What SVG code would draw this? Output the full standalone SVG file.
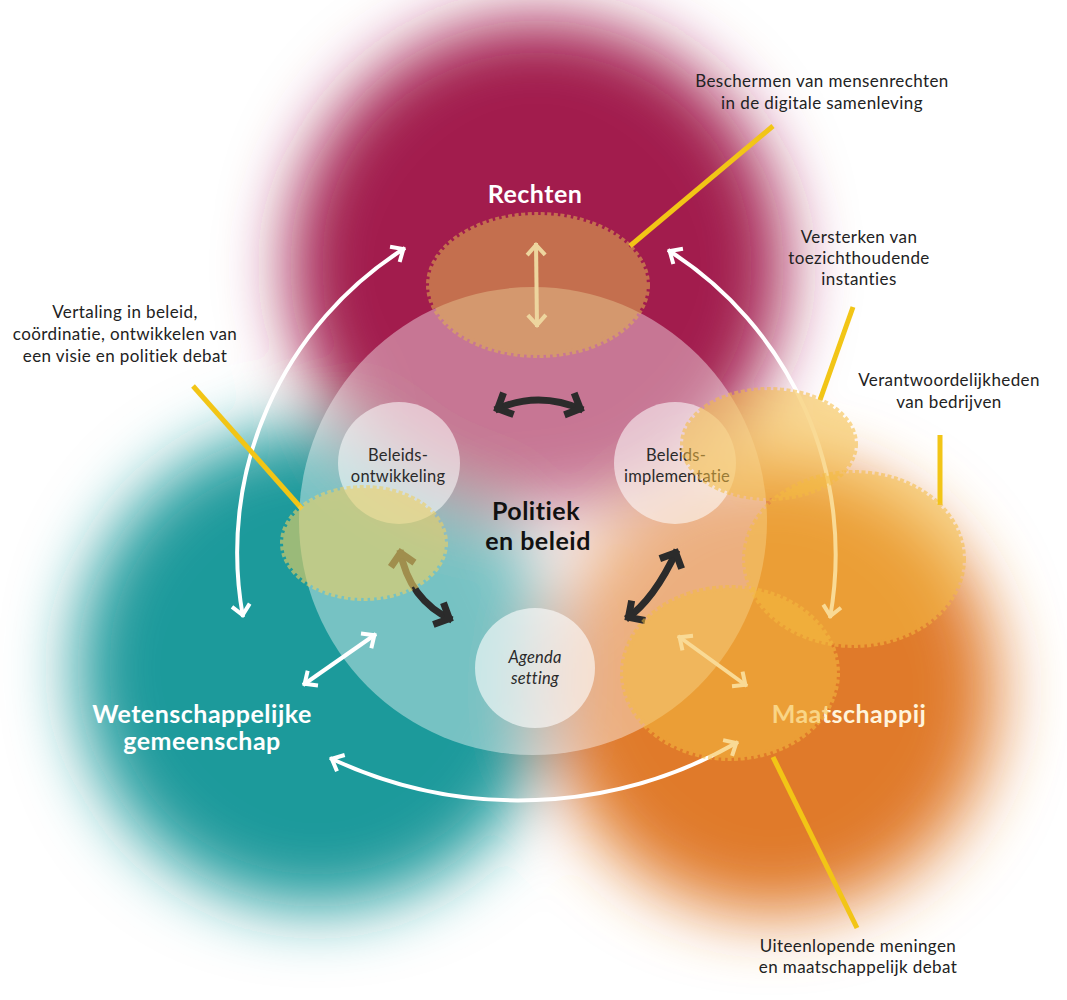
<svg xmlns="http://www.w3.org/2000/svg" width="1067" height="1000" viewBox="0 0 1067 1000">
<defs>
<style>
.note{font-family:Lato,"Open Sans","Noto Sans",sans-serif;font-size:17px;letter-spacing:0.4px;fill:#222;text-anchor:middle}
.big{font-family:Lato,"Open Sans","Noto Sans",sans-serif;font-size:25px;letter-spacing:0.5px;font-weight:700;text-anchor:middle}
.inner{font-family:Lato,"Open Sans","Noto Sans",sans-serif;font-size:16.5px;letter-spacing:0.2px;fill:#2a2a2a;text-anchor:middle}
.warrow{fill:none;stroke:#fff;stroke-width:4;marker-start:url(#wh);marker-end:url(#wh)}
.darrow{fill:none;stroke:#2b2b2b;stroke-width:7;marker-start:url(#dk);marker-end:url(#dk)}
.leader{stroke:#F2C516;stroke-width:5;fill:none}
.cloud{stroke-width:6;stroke-dasharray:4 2.5}
</style>
<filter id="blur" x="-50%" y="-50%" width="200%" height="200%"><feGaussianBlur stdDeviation="34"/></filter>
<marker id="wh" markerUnits="userSpaceOnUse" viewBox="-16 -13 20 26" refX="0" refY="0" markerWidth="20" markerHeight="26" orient="auto-start-reverse">
<polyline points="-12,-9 -2,0 -12,9" fill="none" stroke="#fff" stroke-width="4"/>
</marker>
<marker id="dk" markerUnits="userSpaceOnUse" viewBox="-20 -17 26 34" refX="0" refY="0" markerWidth="26" markerHeight="34" orient="auto-start-reverse">
<polyline points="-15,-12 -3,0 -15,12" fill="none" stroke="#2b2b2b" stroke-width="7"/>
</marker>
</defs>
<rect width="1067" height="1000" fill="#fff"/>

<g id="blobs" filter="url(#blur)">
<circle cx="317" cy="668" r="240" fill="#1D9A9B"/>
<circle cx="772" cy="690" r="225" fill="#E07A2A"/>
<circle cx="537" cy="266" r="247" fill="#A21D4D"/>
</g>

<g id="politiek">
<circle cx="533" cy="521" r="234" fill="#fff" fill-opacity="0.4"/>
<text class="big" x="536" y="520" fill="#111">Politiek</text>
<text class="big" x="538" y="550" fill="#111">en beleid</text>
</g>

<g id="beleidsontwikkeling">
<circle cx="399" cy="463" r="61" fill="#fff" fill-opacity="0.55"/>
<text class="inner" x="398" y="461">Beleids-</text>
<text class="inner" x="398" y="482">ontwikkeling</text>
</g>
<g id="beleidsimplementatie">
<circle cx="675" cy="463" r="61" fill="#fff" fill-opacity="0.55"/>
<text class="inner" x="676" y="461">Beleids-</text>
<text class="inner" x="677" y="482">implementatie</text>
</g>
<g id="agenda">
<circle cx="535" cy="668" r="60" fill="#fff" fill-opacity="0.6"/>
<text class="inner" x="535" y="663" font-style="italic">Agenda</text>
<text class="inner" x="535" y="684" font-style="italic">setting</text>
</g>

<g id="rechten"><text class="big" x="535" y="203" fill="#fff">Rechten</text></g>
<g id="wetenschap">
<text class="big" x="202" y="723" fill="#fff">Wetenschappelijke</text>
<text class="big" x="202" y="750" fill="#fff">gemeenschap</text>
</g>
<g id="maatschappij"><text class="big" x="849" y="723" fill="#FFF4DC">Maatschappij</text></g>

<g id="connectors">
<path class="warrow" d="M405 248 A360 360 0 0 0 243 617"/>
<path class="warrow" d="M668 250 A360 360 0 0 1 830 618"/>
<path class="warrow" d="M330 758 A441 441 0 0 0 738 742"/>
<path class="warrow" d="M303 685 L376 634"/>
<path class="warrow" d="M678 636 L747 686"/>
<path class="warrow" d="M536 243 L537 327"/>
<path class="darrow" d="M495 410 Q538 390 583 410"/>
<path class="darrow" d="M400 550 Q409 600 452 620"/>
<path class="darrow" d="M677 550 Q654 600 626 619"/>
<line class="leader" x1="630" y1="246" x2="773" y2="126"/>
<line class="leader" x1="820" y1="400" x2="853" y2="307"/>
<line class="leader" x1="940" y1="435" x2="940" y2="505"/>
<line class="leader" x1="193" y1="386" x2="302" y2="509"/>
<line class="leader" x1="773" y1="757" x2="857" y2="928"/>
</g>

<g id="clouds">
<g opacity="0.55"><ellipse class="cloud" cx="538" cy="285" rx="109" ry="70" fill="#E0B450" stroke="#E0B450"/></g>
<g opacity="0.6"><ellipse class="cloud" cx="364" cy="543" rx="81" ry="55" fill="#EED064" stroke="#EED064"/></g>
<g opacity="0.55"><ellipse class="cloud" cx="769" cy="444" rx="86" ry="54" fill="#F5BC40" stroke="#F5BC40"/></g>
<g opacity="0.55"><ellipse class="cloud" cx="854" cy="559" rx="109" ry="86" fill="#F5BC40" stroke="#F5BC40"/></g>
<g opacity="0.55"><ellipse class="cloud" cx="730" cy="673" rx="107" ry="85" fill="#F5BC40" stroke="#F5BC40"/></g>
</g>

<g id="notes">
<text class="note" x="822" y="87">Beschermen van mensenrechten</text>
<text class="note" x="822" y="109">in de digitale samenleving</text>
<text class="note" x="859" y="243">Versterken van</text>
<text class="note" x="859" y="264">toezichthoudende</text>
<text class="note" x="859" y="285">instanties</text>
<text class="note" x="949" y="386">Verantwoordelijkheden</text>
<text class="note" x="949" y="408">van bedrijven</text>
<text class="note" x="125" y="318">Vertaling in beleid,</text>
<text class="note" x="125" y="340">coördinatie, ontwikkelen van</text>
<text class="note" x="125" y="362">een visie en politiek debat</text>
<text class="note" x="858" y="952">Uiteenlopende meningen</text>
<text class="note" x="858" y="973">en maatschappelijk debat</text>
</g>
</svg>
